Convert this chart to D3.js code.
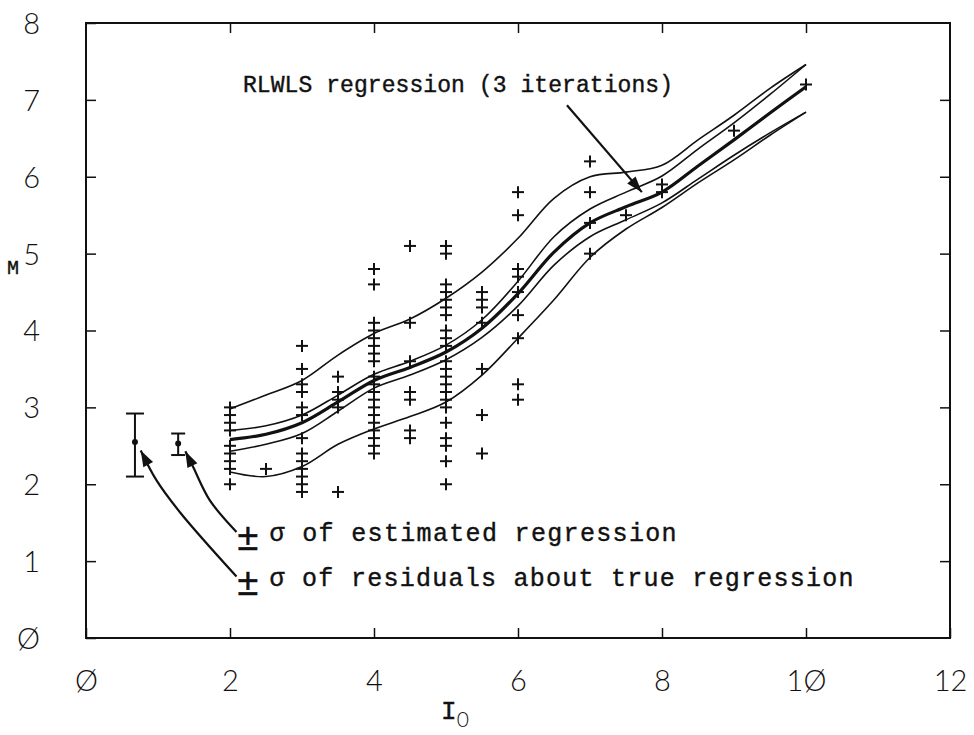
<!DOCTYPE html>
<html>
<head>
<meta charset="utf-8">
<script src="https://cdn.jsdelivr.net/npm/d3@7"></script>
<style>
  body { margin: 0; background: #fff; }
  svg { display: block; }
  .tick text { font-family: "Lato", "DejaVu Sans", sans-serif; font-weight: 300; font-size: 29px; fill: #111; }
  .mono { font-family: "Liberation Mono", "DejaVu Sans Mono", monospace; fill: #111; stroke: #111; stroke-width: 0.4; }
</style>
</head>
<body>
<svg id="chart" width="974" height="735"></svg>
<script>
// Axis ticks
const xTicks = [0, 2, 4, 6, 8, 10, 12];
const yTicks = [0, 1, 2, 3, 4, 5, 6, 7, 8];

// Observed (I0, M) pairs, grouped by intensity
const obsI0 = [2, 2.5, 3, 3.5, 4, 4.5, 5, 5.5, 6, 7, 7.5, 8, 9, 10];
const obsM = [
  [3.0, 2.9, 2.8, 2.7, 2.5, 2.4, 2.3, 2.2, 2.0],
  [2.2],
  [3.8, 3.5, 3.3, 3.2, 3.0, 2.9, 2.6, 2.4, 2.3, 2.2, 2.1, 2.0, 1.9],
  [3.4, 3.2, 3.1, 3.0, 1.9],
  [4.8, 4.6, 4.1, 4.0, 3.9, 3.8, 3.7, 3.6, 3.4, 3.3, 3.2, 3.1, 3.0, 2.9, 2.8, 2.7, 2.6, 2.5, 2.4],
  [5.1, 4.1, 3.6, 3.2, 3.1, 2.7, 2.6],
  [5.1, 5.0, 4.6, 4.5, 4.4, 4.3, 4.2, 4.0, 3.9, 3.8, 3.6, 3.5, 3.4, 3.3, 3.2, 3.1, 3.0, 2.8, 2.6, 2.5, 2.3, 2.0],
  [4.5, 4.4, 4.3, 4.1, 3.5, 2.9, 2.4],
  [5.8, 5.5, 4.8, 4.7, 4.5, 4.2, 3.9, 3.3, 3.1],
  [6.2, 5.8, 5.4, 5.0],
  [5.5],
  [5.9, 5.8],
  [6.6],
  [7.2]
];

// Regression curve and its confidence bands, sampled along I0
const curveI0 = [2, 2.5, 3, 3.5, 4, 4.5, 5, 5.5, 6, 6.5, 7, 7.5, 8, 8.5, 9, 9.5, 10];
const regression = [2.58, 2.65, 2.80, 3.07, 3.35, 3.52, 3.72, 4.03, 4.48, 5.02, 5.40, 5.61, 5.80, 6.14, 6.48, 6.83, 7.17];
const estUpper   = [2.70, 2.76, 2.90, 3.16, 3.43, 3.60, 3.81, 4.14, 4.64, 5.22, 5.58, 5.80, 6.01, 6.36, 6.70, 7.07, 7.46];
const estLower   = [2.43, 2.52, 2.66, 2.95, 3.25, 3.42, 3.62, 3.91, 4.32, 4.85, 5.22, 5.44, 5.66, 5.97, 6.28, 6.57, 6.84];
const resUpper   = [2.98, 3.16, 3.35, 3.68, 3.96, 4.15, 4.42, 4.76, 5.20, 5.72, 6.00, 6.06, 6.15, 6.48, 6.80, 7.15, 7.46];
const resLower   = [2.16, 2.10, 2.23, 2.52, 2.72, 2.88, 3.07, 3.42, 3.90, 4.40, 4.95, 5.32, 5.60, 5.92, 6.22, 6.54, 6.84];

// Standard-deviation bars drawn at the left
const barI0 = [0.68, 1.28];
const barMid = [2.55, 2.53];
const barLow = [2.10, 2.38];
const barHigh = [2.92, 2.66];

const W = 974, H = 735;
const margin = { top: 23, right: 24, bottom: 97, left: 86 };

const svg = d3.select("#chart");
const x = d3.scaleLinear().domain([0, 12]).range([margin.left, W - margin.right]);
const y = d3.scaleLinear().domain([0, 8]).range([H - margin.bottom, margin.top]);

const fmt = d => String(d).replace(/0/g, "\u00D8");

// Frame
svg.append("rect")
  .attr("x", x(0)).attr("y", y(8))
  .attr("width", x(12) - x(0)).attr("height", y(0) - y(8))
  .attr("fill", "none").attr("stroke", "#111").attr("stroke-width", 2);

// Axes with inward ticks
const gx = svg.append("g").attr("transform", `translate(0,${y(0)})`)
  .call(d3.axisBottom(x).tickValues(xTicks).tickSizeInner(-10).tickSizeOuter(0).tickPadding(32).tickFormat(fmt));
const gxTop = svg.append("g").attr("transform", `translate(0,${y(8)})`)
  .call(d3.axisTop(x).tickValues(xTicks.slice(1, -1)).tickSizeInner(-10).tickSizeOuter(0).tickFormat(""));
const gy = svg.append("g").attr("transform", `translate(${x(0)},0)`)
  .call(d3.axisLeft(y).tickValues(yTicks).tickSizeInner(-10).tickSizeOuter(0).tickPadding(46).tickFormat(fmt));
const gyR = svg.append("g").attr("transform", `translate(${x(12)},0)`)
  .call(d3.axisRight(y).tickValues(yTicks.slice(1, -1)).tickSizeInner(-10).tickSizeOuter(0).tickFormat(""));

[gx, gxTop, gy, gyR].forEach(g => {
  g.select(".domain").remove();
  g.selectAll(".tick line").attr("stroke", "#111").attr("stroke-width", 1.5);
});
gy.selectAll(".tick text").attr("dy", "0.36em");

// Axis titles
svg.append("text").attr("class", "mono")
  .attr("x", 13).attr("y", 274).attr("text-anchor", "middle")
  .attr("font-size", 20).text("M");

const xt = svg.append("text")
  .attr("x", 455).attr("y", 719).attr("text-anchor", "middle");
xt.append("tspan").attr("class", "mono").attr("font-size", 26).text("I");
xt.append("tspan").attr("font-family", "Lato, sans-serif").attr("font-weight", 300)
  .attr("font-size", 21).attr("dy", 8).attr("fill", "#111").text("0");

// Curves
const line = d3.line().x((d, i) => x(curveI0[i])).y(d => y(d)).curve(d3.curveCatmullRom.alpha(0.5));
[estUpper, estLower, resUpper, resLower].forEach(arr => {
  svg.append("path").attr("d", line(arr))
    .attr("fill", "none").attr("stroke", "#111").attr("stroke-width", 1.6);
});
svg.append("path").attr("d", line(regression))
  .attr("fill", "none").attr("stroke", "#111").attr("stroke-width", 3.2);

// Observation markers
const pts = obsI0.flatMap((xi, i) => obsM[i].map(m => [xi, m]));
const plus = svg.append("g").attr("stroke", "#111").attr("stroke-width", 2);
pts.forEach(([xi, m]) => {
  const cx = x(xi), cy = y(m);
  plus.append("line").attr("x1", cx - 6).attr("x2", cx + 6).attr("y1", cy).attr("y2", cy);
  plus.append("line").attr("x1", cx).attr("x2", cx).attr("y1", cy - 6).attr("y2", cy + 6);
});

// Sigma bars
const bars = svg.append("g").attr("stroke", "#111").attr("stroke-width", 2);
barI0.forEach((b, i) => {
  const cx = x(b), half = i === 0 ? 9 : 7;
  bars.append("line").attr("x1", cx).attr("x2", cx).attr("y1", y(barLow[i])).attr("y2", y(barHigh[i]));
  bars.append("line").attr("x1", cx - half).attr("x2", cx + half).attr("y1", y(barLow[i])).attr("y2", y(barLow[i]));
  bars.append("line").attr("x1", cx - half).attr("x2", cx + half).attr("y1", y(barHigh[i])).attr("y2", y(barHigh[i]));
  bars.append("circle").attr("cx", cx).attr("cy", y(barMid[i])).attr("r", 2).attr("fill", "#111");
});

// Annotation arrows (in data units)
const arrowPaths = [
  [[2.09, 1.38], [1.72, 1.79], [1.49, 2.22], [1.38, 2.43]],
  [[2.09, 0.80], [1.31, 1.63], [0.98, 2.05], [0.76, 2.44]],
  [[6.68, 6.93], [7.72, 5.80]]
];
const arrowLine = d3.line().x(d => x(d[0])).y(d => y(d[1])).curve(d3.curveCatmullRom.alpha(0.5));
arrowPaths.forEach(p => {
  svg.append("path").attr("d", arrowLine(p))
    .attr("fill", "none").attr("stroke", "#111").attr("stroke-width", 2.2);
  const a = p[p.length - 2], b = p[p.length - 1];
  const ax = x(a[0]), ay = y(a[1]), bx = x(b[0]), by = y(b[1]);
  const ang = Math.atan2(by - ay, bx - ax);
  const L = 16, Wd = 5.5;
  const p1 = [bx - L * Math.cos(ang) + Wd * Math.sin(ang), by - L * Math.sin(ang) - Wd * Math.cos(ang)];
  const p2 = [bx - L * Math.cos(ang) - Wd * Math.sin(ang), by - L * Math.sin(ang) + Wd * Math.cos(ang)];
  svg.append("path").attr("d", `M${bx},${by}L${p1}L${p2}Z`).attr("fill", "#111");
});

// Labels
svg.append("text").attr("class", "mono")
  .attr("x", x(2.18)).attr("y", y(7.1)).attr("font-size", 23)
  .attr("textLength", 430).attr("lengthAdjust", "spacing")
  .text("RLWLS regression (3 iterations)");

const pm = [[1.26, "\u03C3 of estimated regression", 407], [0.67, "\u03C3 of residuals about true regression", 584]];
pm.forEach(([m, label, len]) => {
  svg.append("text").attr("class", "mono").attr("x", x(2.25)).attr("y", y(m) + 9)
    .attr("text-anchor", "middle").attr("font-size", 38).attr("stroke-width", 0.2).text("\u00B1");
  svg.append("text").attr("class", "mono").attr("x", x(2.55)).attr("y", y(m))
    .attr("font-size", 25).attr("textLength", len).attr("lengthAdjust", "spacing").text(label);
});
</script>
</body>
</html>
